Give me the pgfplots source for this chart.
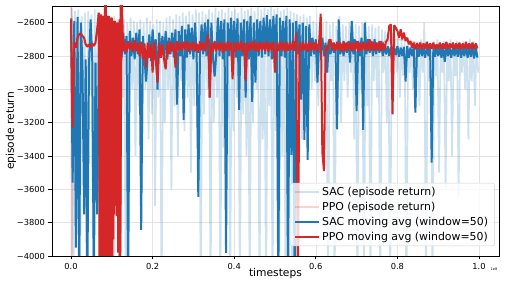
\documentclass[border=0pt]{standalone}
\usepackage{fontspec}
\setmainfont{DejaVu Sans}
\usepackage{pgfplots}
\usepackage{pgfplotstable}
\pgfplotsset{compat=1.18}
\definecolor{tabblue}{HTML}{1F77B4}
\definecolor{tabred}{HTML}{D62728}

% SAC episode returns (one value every 0.004e8 timesteps, offset 0.002e8)
\pgfplotstableread[row sep=\\]{
y\\
-2510\\ -4300\\ -2530\\ -3400\\ -2520\\ -4300\\ -2560\\ -3100\\ -2540\\ -4300\\
-2530\\ -3000\\ -2550\\ -4300\\ -2520\\ -3200\\ -2540\\ -3050\\ -2560\\ -2950\\
-2540\\ -3100\\ -2550\\ -3000\\ -2570\\ -3300\\ -2560\\ -2950\\ -2580\\ -4300\\
-2550\\ -3050\\ -2580\\ -4300\\ -2600\\ -3200\\ -2570\\ -3000\\ -2590\\ -3400\\
-2600\\ -3100\\ -2580\\ -3600\\ -2600\\ -3000\\ -2570\\ -3300\\ -2590\\ -3150\\
-2610\\ -3700\\ -2580\\ -3050\\ -2590\\ -4300\\ -2600\\ -3200\\ -2570\\ -3000\\
-2560\\ -3600\\ -2580\\ -3100\\ -2550\\ -3400\\ -2560\\ -2950\\ -2540\\ -3250\\
-2560\\ -3050\\ -2530\\ -3500\\ -2550\\ -3100\\ -2520\\ -3300\\ -2540\\ -4300\\
-2530\\ -3150\\ -2550\\ -3000\\ -2520\\ -4300\\ -2540\\ -3200\\ -2510\\ -3050\\
-2530\\ -4300\\ -2520\\ -3350\\ -2540\\ -3100\\ -2510\\ -4300\\ -2530\\ -3250\\
-2520\\ -3050\\ -2540\\ -4300\\ -2510\\ -3150\\ -2530\\ -3400\\ -2520\\ -4300\\
-2510\\ -3200\\ -2530\\ -3000\\ -2500\\ -4300\\ -2520\\ -3300\\ -2510\\ -4300\\
-2520\\ -3100\\ -2500\\ -4300\\ -2520\\ -3250\\ -2510\\ -4300\\ -2530\\ -3400\\
-2520\\ -4300\\ -2510\\ -3150\\ -2530\\ -4300\\ -2540\\ -3200\\ -2550\\ -3000\\
-2560\\ -3300\\ -2550\\ -2950\\ -2570\\ -3100\\ -2560\\ -3000\\ -2590\\ -2950\\
-2600\\ -3100\\ -2610\\ -2900\\ -2600\\ -3050\\ -2590\\ -4300\\ -2610\\ -2950\\
-2600\\ -4300\\ -2620\\ -3000\\ -2560\\ -3200\\ -2610\\ -2950\\ -2620\\ -3050\\
-2600\\ -2900\\ -2590\\ -3300\\ -2610\\ -4300\\ -2620\\ -3000\\ -2600\\ -4300\\
-2590\\ -3100\\ -2620\\ -4300\\ -2610\\ -2950\\ -2630\\ -3050\\ -2620\\ -4300\\
-2640\\ -2900\\ -2650\\ -3200\\ -2660\\ -4300\\ -2680\\ -2950\\ -2700\\ -2900\\
-2690\\ -3050\\ -2700\\ -2920\\ -2710\\ -4300\\ -2700\\ -2900\\ -2720\\ -3000\\
-2710\\ -2930\\ -2720\\ -3100\\ -2700\\ -2900\\ -2600\\ -4300\\ -2710\\ -2950\\
-2720\\ -4300\\ -2710\\ -2920\\ -2700\\ -3500\\ -2720\\ -2900\\ -2710\\ -3600\\
-2720\\ -2950\\ -2700\\ -3400\\ -2720\\ -2920\\ -2710\\ -3650\\ -2720\\ -2900\\
-2710\\ -3000\\ -2720\\ -3300\\ -2700\\ -2950\\ -2710\\ -3100\\ -2720\\ -2900\\
}\sacraw

% SAC moving average (window=50), one value every 0.004e8 timesteps
\pgfplotstableread[row sep=\\]{
y\\
-2575\\ -3560\\ -2590\\ -3950\\ -2565\\ -4200\\ -2600\\ -2850\\ -3750\\ -2820\\
-4200\\ -2860\\ -2580\\ -2810\\ -4200\\ -2840\\ -3750\\ -2830\\ -2600\\ -2860\\
-2610\\ -2820\\ -2590\\ -2850\\ -2620\\ -2830\\ -2600\\ -2800\\ -2630\\ -2840\\
-2640\\ -2810\\ -2660\\ -2790\\ -2680\\ -4200\\ -2650\\ -2800\\ -2690\\ -2820\\
-2660\\ -2790\\ -2640\\ -3843\\ -2680\\ -2810\\ -2954\\ -2800\\ -2670\\ -2830\\
-2640\\ -2790\\ -2700\\ -3002\\ -2660\\ -2810\\ -2680\\ -2800\\ -2650\\ -2820\\
-2690\\ -2790\\ -2660\\ -2810\\ -2640\\ -3092\\ -2650\\ -2800\\ -2620\\ -3183\\
-2640\\ -2810\\ -2610\\ -2790\\ -2630\\ -2820\\ -2600\\ -2800\\ -3645\\ -2810\\
-2610\\ -2790\\ -2600\\ -2800\\ -2580\\ -3050\\ -2600\\ -2810\\ -2924\\ -2790\\
-2570\\ -2800\\ -2590\\ -2820\\ -2580\\ -3981\\ -2600\\ -2800\\ -2570\\ -2790\\
-2590\\ -2810\\ -2575\\ -3123\\ -2600\\ -2800\\ -2580\\ -3050\\ -2590\\ -2820\\
-2560\\ -3075\\ -2600\\ -2960\\ -2580\\ -2800\\ -2590\\ -2810\\ -2570\\ -2790\\
-2555\\ -2800\\ -2580\\ -2820\\ -2560\\ -2790\\ -2550\\ -4200\\ -2570\\ -2800\\
-2590\\ -2810\\ -2560\\ -4200\\ -2580\\ -3393\\ -2600\\ -4200\\ -2590\\ -2790\\
-2610\\ -3062\\ -2600\\ -3303\\ -2620\\ -3423\\ -2610\\ -2800\\ -2690\\ -2790\\
-2700\\ -2960\\ -2710\\ -2780\\ -2690\\ -2800\\ -2720\\ -2900\\ -2700\\ -2790\\
-2720\\ -2780\\ -2730\\ -3240\\ -2580\\ -2790\\ -2730\\ -2800\\ -2720\\ -2780\\
-2710\\ -2840\\ -2590\\ -2790\\ -2700\\ -3130\\ -2710\\ -2800\\ -2690\\ -3243\\
-2600\\ -2790\\ -2700\\ -2780\\ -2710\\ -2800\\ -2700\\ -2790\\ -2720\\ -2780\\
-2710\\ -2800\\ -2730\\ -2790\\ -2740\\ -2800\\ -2745\\ -2810\\ -2750\\ -2795\\
-2740\\ -2805\\ -2750\\ -2800\\ -2745\\ -2954\\ -2740\\ -2810\\ -2750\\ -2800\\
-2745\\ -3140\\ -2750\\ -2805\\ -2740\\ -2800\\ -2750\\ -2810\\ -2745\\ -2800\\
-2740\\ -3440\\ -2750\\ -2805\\ -2745\\ -2800\\ -2750\\ -2810\\ -2745\\ -2834\\
-2740\\ -2800\\ -2750\\ -2810\\ -2745\\ -2800\\ -2750\\ -2805\\ -2745\\ -2810\\
-2750\\ -2800\\ -2745\\ -2810\\ -2750\\ -2805\\ -2745\\ -2815\\ -2750\\ -2810\\
}\sacavg

% PPO moving average (window=50), one value every 0.004e8 timesteps
\pgfplotstableread[row sep=\\]{
y\\
-2580\\ -3230\\ -2720\\ -2750\\ -2690\\ -2670\\ -2665\\ -2680\\ -2690\\ -2730\\
-2745\\ -2730\\ -2750\\ -2725\\ -2740\\ -2720\\ -2640\\ -2540\\ -4300\\ -2560\\
-4300\\ -2400\\ -4300\\ -2580\\ -4300\\ -2570\\ -3700\\ -2590\\ -3760\\ -2600\\
-4300\\ -2420\\ -2770\\ -2715\\ -2780\\ -2710\\ -2760\\ -2720\\ -2775\\ -2705\\
-2770\\ -2720\\ -2800\\ -2715\\ -2820\\ -2725\\ -2870\\ -2720\\ -2810\\ -2730\\
-2900\\ -2715\\ -2830\\ -2960\\ -2720\\ -2810\\ -2730\\ -2820\\ -2880\\ -2720\\
-2790\\ -2715\\ -2770\\ -2720\\ -2870\\ -2710\\ -2765\\ -2720\\ -2770\\ -2715\\
-2760\\ -2710\\ -2775\\ -2720\\ -2765\\ -2715\\ -2770\\ -2725\\ -2780\\ -2710\\
-2765\\ -2720\\ -2770\\ -2715\\ -2670\\ -3050\\ -2720\\ -2775\\ -2710\\ -2770\\
-2720\\ -2765\\ -2715\\ -2780\\ -2720\\ -2770\\ -2710\\ -2765\\ -2720\\ -2940\\
-2715\\ -2770\\ -2720\\ -2765\\ -2710\\ -2775\\ -2720\\ -2950\\ -2715\\ -2770\\
-2720\\ -2765\\ -2710\\ -2770\\ -2720\\ -2775\\ -2715\\ -2765\\ -2720\\ -2770\\
-2710\\ -2775\\ -2720\\ -2765\\ -2715\\ -2900\\ -2720\\ -2770\\ -2710\\ -2765\\
-2720\\ -2775\\ -2715\\ -2770\\ -2720\\ -2765\\ -2710\\ -2770\\ -2660\\ -4300\\
-2720\\ -2770\\ -2715\\ -2765\\ -2720\\ -2775\\ -2710\\ -2770\\ -2720\\ -2765\\
-2715\\ -2775\\ -2720\\ -2546\\ -3380\\ -3490\\ -2740\\ -2770\\ -2715\\ -2700\\
-2765\\ -2720\\ -2770\\ -2715\\ -2765\\ -2720\\ -2775\\ -2710\\ -2770\\ -2720\\
-2765\\ -2715\\ -2770\\ -2720\\ -2765\\ -2710\\ -2775\\ -2720\\ -2770\\ -2715\\
-2765\\ -2720\\ -2770\\ -2700\\ -2765\\ -2715\\ -2770\\ -2720\\ -2765\\ -2710\\
-2770\\ -2720\\ -2765\\ -2715\\ -2700\\ -2620\\ -2610\\ -3150\\ -2615\\ -2630\\
-2650\\ -2690\\ -2640\\ -2700\\ -2660\\ -2710\\ -2690\\ -2730\\ -2710\\ -2750\\
-2720\\ -2760\\ -2725\\ -2755\\ -2720\\ -2760\\ -2725\\ -2755\\ -2715\\ -2760\\
-2725\\ -2755\\ -2720\\ -2760\\ -2730\\ -2755\\ -2720\\ -2760\\ -2725\\ -2755\\
-2715\\ -2760\\ -2725\\ -2750\\ -2720\\ -2760\\ -2725\\ -2755\\ -2720\\ -2760\\
-2725\\ -2755\\ -2715\\ -2760\\ -2725\\ -2755\\ -2720\\ -2760\\ -2725\\ -2755\\
}\ppoavg

% PPO moving average during the unstable phase, sampled finer
\pgfplotstableread[row sep=\\]{
x y\\
0.0688 -2560\\ 0.0700 -4300\\ 0.0712 -2570\\ 0.0724 -4300\\ 0.0736 -2550\\
0.0748 -4300\\ 0.0760 -2580\\ 0.0772 -4300\\ 0.0784 -2560\\ 0.0796 -4300\\
0.0808 -2570\\ 0.0820 -4300\\ 0.0832 -2450\\ 0.0844 -4300\\ 0.0856 -2400\\
0.0868 -4300\\ 0.0880 -2560\\ 0.0892 -4300\\ 0.0904 -2580\\ 0.0916 -4300\\
0.0928 -2560\\ 0.0940 -4300\\ 0.0952 -2590\\ 0.0964 -4300\\ 0.0976 -2570\\
0.0988 -4300\\ 0.1000 -2580\\ 0.1012 -4300\\ 0.1024 -2600\\ 0.1036 -3900\\
0.1048 -2590\\ 0.1060 -3750\\ 0.1072 -2600\\ 0.1084 -3700\\ 0.1096 -2610\\
0.1108 -3650\\ 0.1120 -2600\\ 0.1132 -3760\\ 0.1144 -2620\\ 0.1156 -3980\\
0.1168 -2600\\ 0.1180 -3600\\ 0.1192 -2580\\ 0.1204 -4300\\ 0.1216 -2420\\
0.1228 -2760\\
}\ppounstable

\begin{document}
\begin{tikzpicture}
\begin{axis}[
  name=ax,
  scale only axis,
  width=447pt, height=250pt,
  xmin=-0.0466, xmax=1.049,
  ymin=-4000, ymax=-2500,
  xtick={0,0.2,0.4,0.6,0.8,1},
  xticklabels={0.0,0.2,0.4,0.6,0.8,1.0},
  ytick={-4000,-3800,-3600,-3400,-3200,-3000,-2800,-2600},
  yticklabels={−4000,−3800,−3600,−3400,−3200,−3000,−2800,−2600},
  grid=major,
  grid style={gray!22, line width=0.6pt},
  axis line style={line width=0.8pt},
  tick align=outside, tick pos=left,
  major tick length=3.5pt,
  tick style={black, line width=0.8pt},
  ticklabel style={font=\fontsize{8.3}{9}\selectfont},
  xlabel={timesteps}, ylabel={episode return},
  every axis x label/.style={at={(rel axis cs:0.5,0)}, yshift=-18pt, anchor=center, font=\fontsize{10.7}{12}\selectfont},
  every axis y label/.style={at={(rel axis cs:0,0.5)}, xshift=-41pt, rotate=90, anchor=center, font=\fontsize{10.7}{12}\selectfont},
  legend cell align=left,
  legend style={at={(rel axis cs:0.5324,0.292)}, anchor=north west,
    draw=gray!35, rounded corners=2pt, fill=white, fill opacity=0.8, text opacity=1,
    font=\fontsize{10.9}{12}\selectfont, row sep=1.2pt, inner xsep=4.5pt, inner ysep=2pt},
  legend image code/.code={\draw[#1, line width=1.5pt] (0pt,0pt) -- (24pt,0pt);},
]
\addplot[tabblue, draw opacity=0.22, line width=1.7pt, line join=bevel]
  table[x expr=0.002+0.004*\coordindex, y=y] {\sacraw};
\addlegendentry{SAC (episode return)}
\addplot[tabred, draw opacity=0.2, line width=1.4pt, line join=bevel] coordinates {
  (0,-2500) (0.0008,-4300) (0.0016,-2520) (0.0024,-4300) (0.0032,-2560)
  (0.004,-3700) (0.006,-2700) (0.02,-2690) (0.04,-2740) (0.06,-2730)
  (0.068,-2560) (0.072,-4300) (0.08,-2560) (0.088,-4300) (0.096,-2580)
  (0.104,-4300) (0.112,-2600) (0.12,-4300) (0.124,-2740) (0.2,-2745)
  (0.3,-2740) (0.4,-2745) (0.5,-2740) (0.6,-2745) (0.7,-2740)
  (0.8,-2700) (0.9,-2740) (0.996,-2740)
};
\addlegendentry{PPO (episode return)}
\addplot[tabblue, line width=2pt, line join=bevel]
  table[x expr=0.004*\coordindex, y=y] {\sacavg};
\addlegendentry{SAC moving avg (window=50)}
\addplot[tabred, line width=2pt, line join=bevel]
  table[x expr=0.004*\coordindex, y=y] {\ppoavg};
\addlegendentry{PPO moving avg (window=50)}
\addplot[tabred, line width=2pt, line join=bevel, forget plot]
  table[x=x, y=y] {\ppounstable};
\end{axis}
\node[font=\fontsize{3.5}{4}\selectfont, anchor=center] at ([shift={(-5pt,-13pt)}]ax.south east) {1e8};
\pgfresetboundingbox
\path[use as bounding box] ([shift={(-52pt,-32pt)}]ax.south west) rectangle ([shift={(7pt,6pt)}]ax.north east);
\end{tikzpicture}
\end{document}
